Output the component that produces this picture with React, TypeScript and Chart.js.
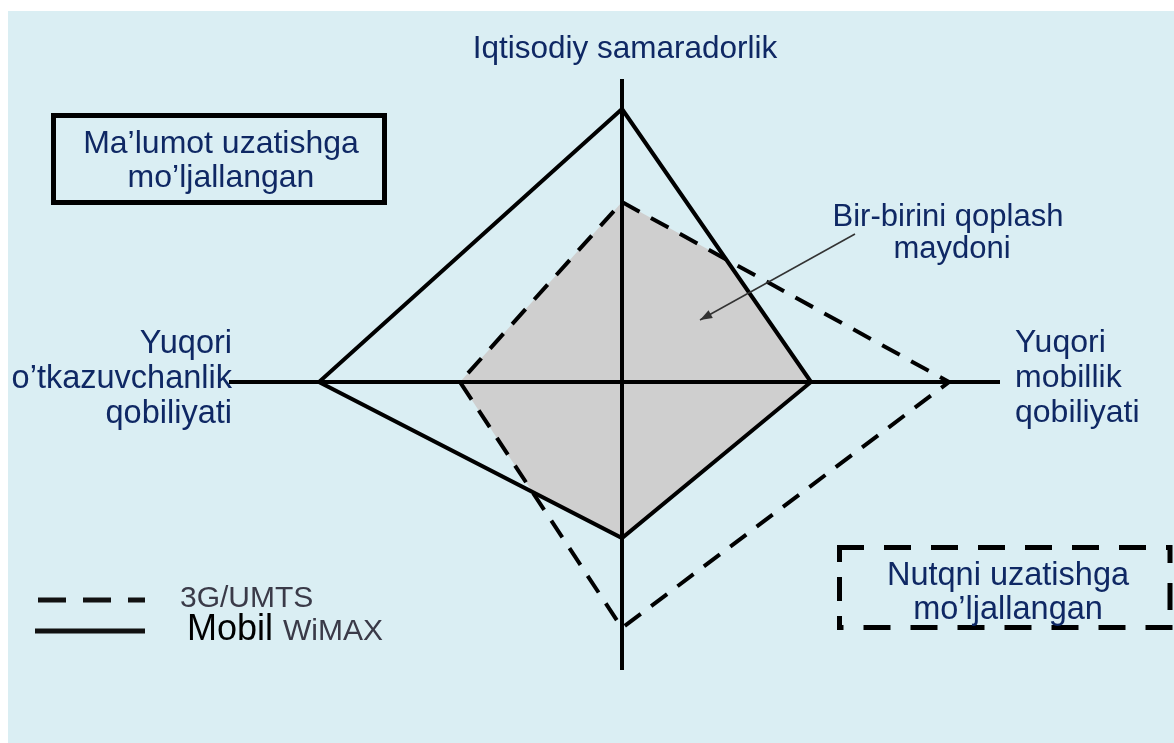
import React, { useEffect, useRef } from "react";
import { Chart, registerables } from "chart.js";
Chart.register(...registerables);

// Axis order: top, right, bottom, left
const AXIS_NAMES = ["Iqtisodiy samaradorlik", "Yuqori mobillik qobiliyati", "", "Yuqori o’tkazuvchanlik qobiliyati"];
const WIMAX_VALUES = [9.1, 6.3, 5.2, 10.1];
const UMTS_VALUES = [6.0, 10.9, 8.2, 5.4];
const AXIS_EXTENT = [10.1, 12.6, 9.6, 13.1];
const SERIES_NAMES = ["3G/UMTS", "Mobil WiMAX"];

const W = 1174;
const H = 743;
const CX = 622;
const CY = 382;
const PX = 30;

const DIRS = [
  [0, 1],
  [1, 0],
  [0, -1],
  [-1, 0],
];

function polygon(vals: number[]) {
  const pts = vals.map((v, i) => ({ x: DIRS[i][0] * v, y: DIRS[i][1] * v }));
  pts.push(pts[0]);
  return pts;
}

const FONT = "'Liberation Sans', Arial, sans-serif";
const NAVY = "#0f2864";
const BG = "#daeef3";

const bgPlugin = {
  id: "bg",
  beforeDraw(chart: any) {
    const ctx = chart.ctx;
    ctx.save();
    ctx.fillStyle = "#ffffff";
    ctx.fillRect(0, 0, chart.width, chart.height);
    ctx.fillStyle = BG;
    ctx.fillRect(8, 11, chart.width - 8, chart.height - 11);
    ctx.restore();
  },
};

const overlapPlugin = {
  id: "overlap",
  beforeDatasetsDraw(chart: any) {
    const ctx = chart.ctx;
    const a = chart.getDatasetMeta(0).data;
    const b = chart.getDatasetMeta(1).data;
    const path = (pts: any[]) => {
      ctx.beginPath();
      pts.forEach((p, i) => (i === 0 ? ctx.moveTo(p.x, p.y) : ctx.lineTo(p.x, p.y)));
      ctx.closePath();
    };
    ctx.save();
    path(a);
    ctx.clip();
    path(b);
    ctx.fillStyle = "#cfcfcf";
    ctx.fill();
    ctx.restore();
  },
};

const textPlugin = {
  id: "texts",
  afterDraw(chart: any) {
    const ctx = chart.ctx;
    const cx = chart.scales.x.getPixelForValue(0);
    const cy = chart.scales.y.getPixelForValue(0);
    ctx.save();
    const txt = (s: string, x: number, y: number, align: string, size: number, color: string) => {
      ctx.font = `${size}px ${FONT}`;
      ctx.fillStyle = color;
      ctx.textAlign = align;
      ctx.textBaseline = "alphabetic";
      ctx.fillText(s, x, y);
    };
    const seg = (x1: number, y1: number, x2: number, y2: number) => {
      ctx.beginPath();
      ctx.moveTo(x1, y1);
      ctx.lineTo(x2, y2);
      ctx.stroke();
    };
    // axis names
    txt(AXIS_NAMES[0], cx + 3, 58, "center", 31.5, NAVY);
    const left = ["Yuqori", "o’tkazuvchanlik", "qobiliyati"];
    left.forEach((s, i) => txt(s, cx - 390, cy - 29 + i * 35, "right", 32.5, NAVY));
    const right = ["Yuqori", "mobillik", "qobiliyati"];
    right.forEach((s, i) => txt(s, cx + 393, cy - 30 + i * 35, "left", 32, NAVY));

    // overlap label + arrow
    txt("Bir-birini qoplash", cx + 326, 226, "center", 31, NAVY);
    txt("maydoni", cx + 330, 258, "center", 31, NAVY);
    const x1 = cx + 233, y1 = 234, x2 = cx + 78, y2 = 320;
    ctx.strokeStyle = "#333";
    ctx.lineWidth = 1.5;
    ctx.setLineDash([]);
    seg(x1, y1, x2, y2);
    const ang = Math.atan2(y2 - y1, x2 - x1);
    ctx.fillStyle = "#333";
    ctx.beginPath();
    ctx.moveTo(x2, y2);
    ctx.lineTo(x2 - 13 * Math.cos(ang - 0.35), y2 - 13 * Math.sin(ang - 0.35));
    ctx.lineTo(x2 - 13 * Math.cos(ang + 0.35), y2 - 13 * Math.sin(ang + 0.35));
    ctx.closePath();
    ctx.fill();

    // box: data-oriented (WiMAX)
    ctx.strokeStyle = "#000";
    ctx.lineWidth = 5;
    ctx.setLineDash([]);
    ctx.strokeRect(53.5, 115.5, 331, 87);
    txt("Ma’lumot uzatishga", 221, 153, "center", 32, NAVY);
    txt("mo’ljallangan", 221, 187, "center", 32, NAVY);

    // box: voice-oriented (3G), each side starts with a dash at a corner
    const bl = 839.5, bt = 547.5, br = 1170, bb = 627.5;
    ctx.strokeStyle = "#000";
    ctx.lineWidth = 5;
    ctx.lineCap = "butt";
    ctx.setLineDash([27, 20]);
    ctx.lineDashOffset = 0;
    seg(bl - 2.5, bt, br, bt);
    ctx.setLineDash([18, 20, 27, 20]);
    seg(br, bt - 2.5, br, bb + 2.5);
    ctx.setLineDash([27, 20]);
    seg(br + 2.5, bb, bl, bb);
    ctx.setLineDash([14, 15, 24, 15]);
    seg(bl, bb + 2.5, bl, bt - 2.5);
    ctx.setLineDash([]);
    txt("Nutqni uzatishga", 1008, 585, "center", 32.5, NAVY);
    txt("mo’ljallangan", 1008, 619, "center", 32.5, NAVY);

    // legend
    ctx.strokeStyle = "#111";
    ctx.lineWidth = 5;
    ctx.setLineDash([28, 17]);
    ctx.lineDashOffset = 0;
    seg(38, 600, 145, 600);
    ctx.setLineDash([]);
    seg(35, 631, 145, 631);
    txt(SERIES_NAMES[0], 180, 607, "left", 30, "#3a3a48");
    const [w1, w2] = SERIES_NAMES[1].split(" ");
    txt(w1, 187, 640, "left", 36, "#000");
    txt(w2, 283, 640, "left", 30, "#3a3a48");
    ctx.restore();
  },
};

export default function App() {
  const ref = useRef<HTMLCanvasElement>(null);
  useEffect(() => {
    if (!ref.current) return;
    const vAxis = [
      { x: 0, y: AXIS_EXTENT[0] },
      { x: 0, y: -AXIS_EXTENT[2] },
    ];
    const hAxis = [
      { x: -AXIS_EXTENT[3], y: 0 },
      { x: AXIS_EXTENT[1], y: 0 },
    ];
    const common = { showLine: true, pointRadius: 0, fill: false, tension: 0, borderJoinStyle: "miter" };
    const chart = new Chart(ref.current, {
      type: "scatter",
      data: {
        datasets: [
          { ...common, label: SERIES_NAMES[1], data: polygon(WIMAX_VALUES), borderColor: "#000", borderWidth: 4 },
          { ...common, label: SERIES_NAMES[0], data: polygon(UMTS_VALUES), borderColor: "#000", borderWidth: 4, borderDash: [20, 13] },
          { ...common, label: "axisV", data: vAxis, borderColor: "#000", borderWidth: 4 },
          { ...common, label: "axisH", data: hAxis, borderColor: "#000", borderWidth: 4 },
        ],
      } as any,
      options: {
        responsive: false,
        animation: false,
        devicePixelRatio: 1,
        layout: { padding: 0, autoPadding: false },
        plugins: { legend: { display: false }, tooltip: { enabled: false }, title: { display: false } },
        scales: {
          x: { type: "linear", display: false, min: -CX / PX, max: (W - CX) / PX },
          y: { type: "linear", display: false, min: -(H - CY) / PX, max: CY / PX },
        },
      } as any,
      plugins: [bgPlugin, overlapPlugin, textPlugin],
    });
    return () => chart.destroy();
  }, []);
  return (
    <canvas
      ref={ref}
      width={W}
      height={H}
      style={{ display: "block", position: "fixed", left: 0, top: 0 }}
    />
  );
}
